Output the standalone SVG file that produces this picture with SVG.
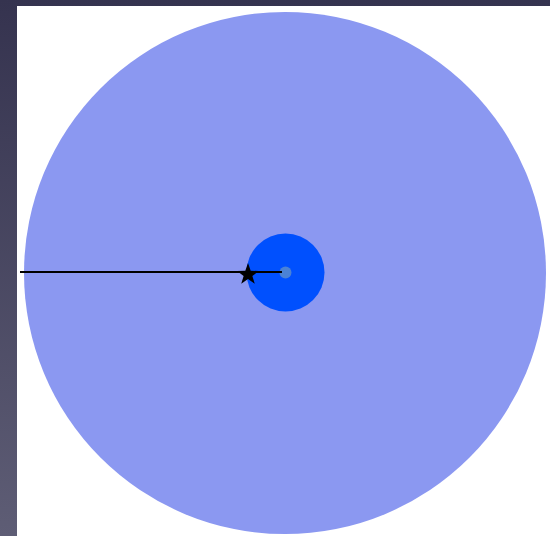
<svg xmlns="http://www.w3.org/2000/svg" width="550" height="536" viewBox="0 0 550 536">
<defs>
<linearGradient id="bg" x1="0" y1="0" x2="0" y2="1">
<stop offset="0" stop-color="#35334f"/>
<stop offset="1" stop-color="#5e5d75"/>
</linearGradient>
</defs>
<rect x="0" y="0" width="550" height="536" fill="url(#bg)"/>
<rect x="17" y="6" width="533" height="530" fill="#ffffff"/>
<g id="outer"><circle cx="285" cy="273" r="261" fill="#8b98f1"/></g>
<g id="inner"><circle cx="285.5" cy="272.5" r="39" fill="#0050fe"/></g>
<g id="center"><circle cx="285.5" cy="272.5" r="6" fill="#4a82d6"/></g>
<g id="connectors"><line x1="20" y1="272" x2="282" y2="272" stroke="#000" stroke-width="2.2"/></g>
<g id="star"><polygon transform="translate(248,274.5) scale(1.15)" fill="#000" points="0,-10 2.35,-3.24 9.51,-3.09 3.8,1.24 5.88,8.09 0,4 -5.88,8.09 -3.8,1.24 -9.51,-3.09 -2.35,-3.24"/></g>
</svg>
